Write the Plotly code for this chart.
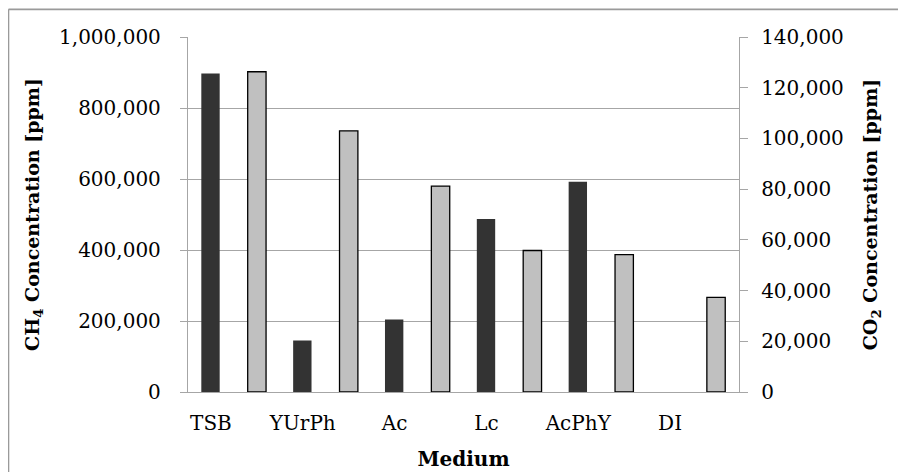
import plotly.graph_objects as go

categories = ["TSB", "YUrPh", "Ac", "Lc", "AcPhY", "DI"]
ch4_ppm = [897000, 145000, 204000, 487000, 592000, 0]
co2_ppm = [126300, 103000, 81200, 55800, 54200, 37300]

ch4_ticks = [0, 200000, 400000, 600000, 800000, 1000000]
co2_ticks = [0, 20000, 40000, 60000, 80000, 100000, 120000, 140000]

FONT = "DejaVu Serif"
GRID = "#a6a6a6"

# plot-area geometry in page pixels (page body adds an 8px offset)
L, R, T, B = 180.3, 174.7, 28.5, 88.0
PW = 906 - L - R
PH = 472 - T - B

fig = go.Figure()
fig.add_trace(go.Bar(
    x=categories, y=ch4_ppm, name="CH4", yaxis="y",
    marker=dict(color="#333333", line=dict(width=0)),
    width=0.2, offset=-0.355,
))
fig.add_trace(go.Bar(
    x=categories, y=co2_ppm, name="CO2", yaxis="y2",
    marker=dict(color="#c0c0c0", line=dict(color="#000000", width=1.3)),
    width=0.2, offset=0.15,
))

fig.update_layout(
    width=906, height=472,
    margin=dict(l=L, r=R, t=T, b=B, pad=0),
    paper_bgcolor="white", plot_bgcolor="white",
    barmode="overlay", showlegend=False,
    font=dict(family=FONT, size=20, color="black"),
    xaxis=dict(
        type="category", showgrid=False, showline=True, linecolor=GRID, linewidth=1.3,
        ticks="", ticklabelshift=-23, ticklabelstandoff=13,
        title=dict(text="<b>Medium</b>", font=dict(size=20), standoff=17),
    ),
    yaxis=dict(
        range=[0, 1000000], tickvals=ch4_ticks, tickformat=",",
        showgrid=True, gridcolor=GRID, gridwidth=1.3, zeroline=False,
        showline=True, linecolor=GRID, linewidth=1.3,
        ticks="outside", ticklen=7, tickcolor=GRID, tickwidth=1.3,
        ticklabelstandoff=15,
        title=dict(text="<b>CH<sub>4</sub> Concentration [ppm]</b>", font=dict(size=19), standoff=14),
    ),
    yaxis2=dict(
        range=[0, 140000], tickvals=co2_ticks, tickformat=",",
        overlaying="y", side="right", showgrid=False, zeroline=False,
        showline=True, linecolor=GRID, linewidth=1.3,
        ticks="outside", ticklen=8, tickcolor=GRID, tickwidth=1.3,
        ticklabelstandoff=9,
        title=dict(text="<b>CO<sub>2</sub> Concentration [ppm]</b>", font=dict(size=19), standoff=20),
    ),
)

# outer chart-area border (left and top edges visible)
bx = (0.8 - L) / PW
by = (PH + T - 0.8) / PH
fig.add_shape(type="line", xref="paper", yref="paper",
              x0=bx, x1=(906 - L) / PW + 0.05, y0=by, y1=by,
              line=dict(color="#9a9a9a", width=1.6))
fig.add_shape(type="line", xref="paper", yref="paper",
              x0=bx, x1=bx, y0=by, y1=-B / PH - 0.05,
              line=dict(color="#9a9a9a", width=1.6))

fig.write_html("out.html")
